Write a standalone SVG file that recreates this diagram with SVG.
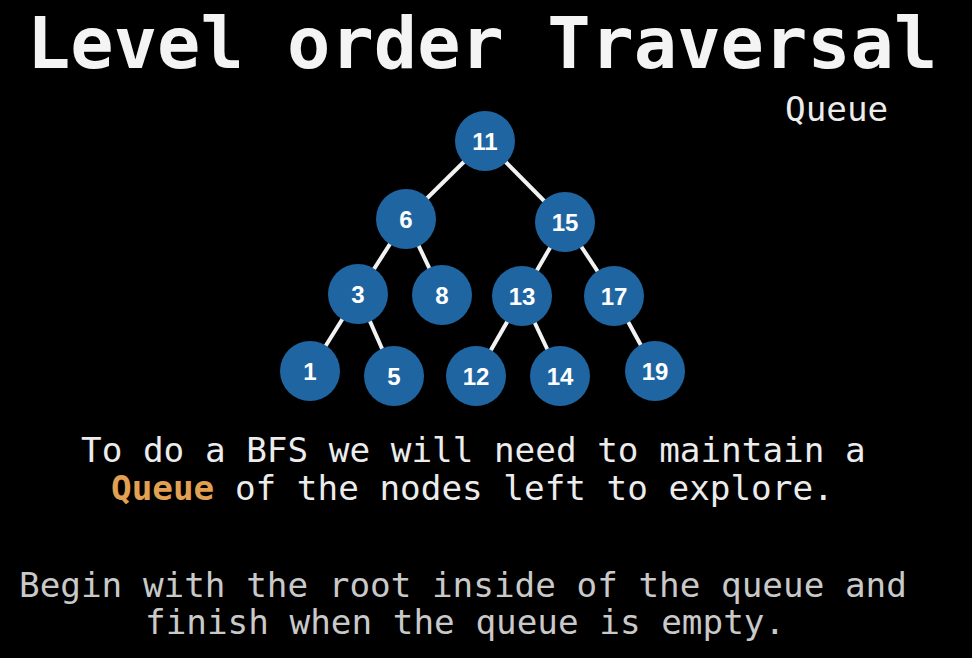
<svg xmlns="http://www.w3.org/2000/svg" width="972" height="658" viewBox="0 0 972 658">
<style>
.bg{fill:#000}
.title{font-family:"DejaVu Sans Mono",monospace;font-weight:bold;font-size:72px;fill:#f4f4f4}
.mono{font-family:"DejaVu Sans Mono",monospace;font-size:34.3px}
.w{fill:#ececec}
.g{fill:#c9c9c9}
.q{fill:#e2a052;font-weight:bold}
.node circle{fill:#1e65a1}
.node text{font-family:"Liberation Sans",Arial,sans-serif;font-weight:bold;font-size:24px;fill:#ffffff;text-anchor:middle}
.edges line{stroke:#f2f2f2;stroke-width:4}
</style>
<rect class="bg" x="0" y="0" width="972" height="658"/>
<text class="title" x="27" y="68">Level order Traversal</text>
<text class="mono w" x="785" y="121" font-size="33">Queue</text>
<g id="edges" class="edges">
<line x1="485" y1="141" x2="406" y2="219"/>
<line x1="485" y1="141" x2="565" y2="222"/>
<line x1="406" y1="219" x2="358" y2="294"/>
<line x1="406" y1="219" x2="442" y2="295"/>
<line x1="565" y1="222" x2="522" y2="296"/>
<line x1="565" y1="222" x2="614" y2="296"/>
<line x1="358" y1="294" x2="310" y2="371"/>
<line x1="358" y1="294" x2="394" y2="376"/>
<line x1="522" y1="296" x2="476" y2="376"/>
<line x1="522" y1="296" x2="560" y2="376"/>
<line x1="614" y1="296" x2="655" y2="371"/>
</g>
<g id="n11" class="node"><circle cx="485" cy="141" r="30"/><text x="485" y="150">11</text></g>
<g id="n6" class="node"><circle cx="406" cy="219" r="30"/><text x="406" y="228">6</text></g>
<g id="n15" class="node"><circle cx="565" cy="222" r="30"/><text x="565" y="231">15</text></g>
<g id="n3" class="node"><circle cx="358" cy="294" r="30"/><text x="358" y="303">3</text></g>
<g id="n8" class="node"><circle cx="442" cy="295" r="30"/><text x="442" y="304">8</text></g>
<g id="n13" class="node"><circle cx="522" cy="296" r="30"/><text x="522" y="305">13</text></g>
<g id="n17" class="node"><circle cx="614" cy="296" r="30"/><text x="614" y="305">17</text></g>
<g id="n1" class="node"><circle cx="310" cy="371" r="30"/><text x="310" y="380">1</text></g>
<g id="n5" class="node"><circle cx="394" cy="376" r="30"/><text x="394" y="385">5</text></g>
<g id="n12" class="node"><circle cx="476" cy="376" r="30"/><text x="476" y="385">12</text></g>
<g id="n14" class="node"><circle cx="560" cy="376" r="30"/><text x="560" y="385">14</text></g>
<g id="n19" class="node"><circle cx="655" cy="371" r="30"/><text x="655" y="380">19</text></g>
<text class="mono w" x="81" y="462">To do a BFS we will need to maintain a</text>
<text class="mono w" x="111" y="500"><tspan class="q">Queue</tspan> of the nodes left to explore.</text>
<text class="mono g" x="19" y="597">Begin with the root inside of the queue and</text>
<text class="mono g" x="145" y="634">finish when the queue is empty.</text>
</svg>
